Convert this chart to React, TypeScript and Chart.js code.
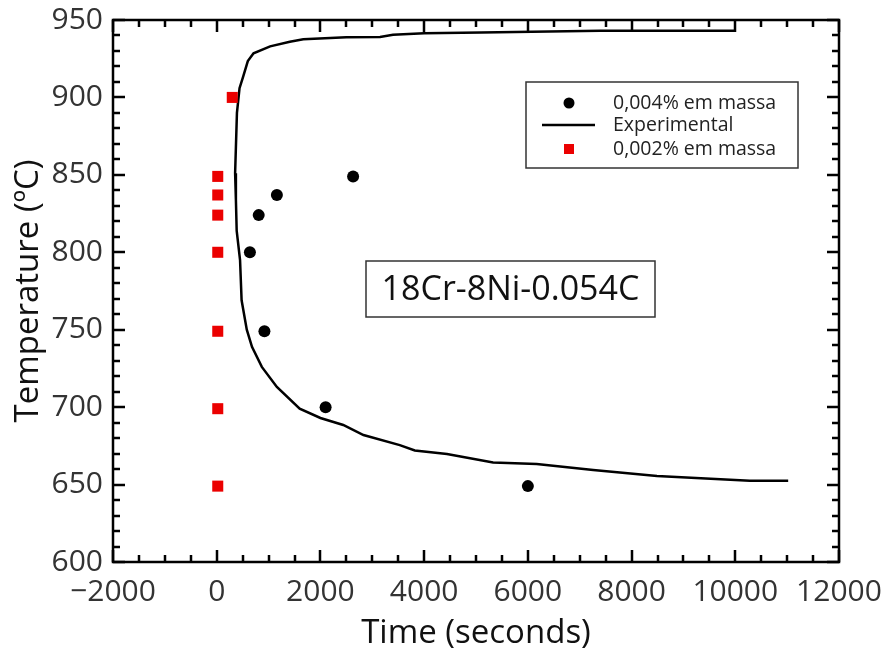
import React, { useEffect, useRef } from 'react';
import { Chart, registerables } from 'chart.js';
Chart.register(...registerables);

const xTicks = [-2000, 0, 2000, 4000, 6000, 8000, 10000, 12000];
const yTicks = [600, 650, 700, 750, 800, 850, 900, 950];

const blackLabel = '0,004% em massa';
const blackX = [2630, 1160, 810, 640, 920, 2100, 6000];
const blackY = [849, 837, 824, 800, 749, 700, 649];

const redLabel = '0,002% em massa';
const redX = [20, 20, 20, 20, 20, 20, 20, 300];
const redY = [849, 837, 824, 800, 749, 699, 649, 900];

const expLabel = 'Experimental';
const expX = [10000, 7400, 5100, 4000, 3400, 3150, 2500, 1670, 1410, 1030, 710, 600, 510, 440, 390, 355, 370, 385, 450, 480, 580, 680, 870, 1160, 1600, 2000, 2440, 2830, 3530, 3820, 4440, 5330, 6170, 7260, 8490, 10280, 11020];
const expY = [943, 943, 942, 941.5, 940.5, 939, 938.8, 937.5, 936, 933, 928.5, 923.5, 913.5, 906, 890, 851, 834, 814, 795, 769, 750, 739, 726, 713, 699, 693, 688.5, 682, 675.5, 672, 669.7, 664.3, 663.3, 659.4, 655.5, 652.5, 652.5];

const boxText = '18Cr-8Ni-0.054C';
const xTitle = 'Time (seconds)';
const yTitle = 'Temperature (ºC)';

const FONT = "'Open Sans', sans-serif";

const zip = (xs: number[], ys: number[]) => xs.map((x, i) => ({ x, y: ys[i] }));

const framePlugin = {
  id: 'frameTicks',
  afterDraw(chart: any) {
    const { ctx, chartArea: ca, scales } = chart;
    const xs = scales.x;
    const ys = scales.y;
    ctx.save();
    ctx.strokeStyle = '#000';
    ctx.lineWidth = 2.5;
    ctx.lineCap = 'butt';
    const major = 12;
    const minor = 7;
    for (let v = -2000; v <= 12000; v += 500) {
      const px = Math.round(xs.getPixelForValue(v));
      const len = v % 2000 === 0 ? major : minor;
      ctx.beginPath();
      ctx.moveTo(px, ca.bottom);
      ctx.lineTo(px, ca.bottom - len);
      ctx.moveTo(px, ca.top);
      ctx.lineTo(px, ca.top + len);
      ctx.stroke();
    }
    for (let v = 600; v <= 950; v += 10) {
      const py = Math.round(ys.getPixelForValue(v));
      const len = v % 50 === 0 ? major : minor;
      ctx.beginPath();
      ctx.moveTo(ca.left, py);
      ctx.lineTo(ca.left + len, py);
      ctx.moveTo(ca.right, py);
      ctx.lineTo(ca.right - len, py);
      ctx.stroke();
    }
    ctx.lineWidth = 2.5;
    ctx.strokeRect(ca.left, ca.top, ca.right - ca.left, ca.bottom - ca.top);

    // annotation box
    const bx = ca.left + 253;
    const by = ca.top + 241;
    const bw = 289;
    const bh = 56;
    ctx.fillStyle = '#fff';
    ctx.fillRect(bx, by, bw, bh);
    ctx.lineWidth = 1.5;
    ctx.strokeStyle = '#333';
    ctx.strokeRect(bx, by, bw, bh);
    ctx.fillStyle = '#111';
    ctx.font = `34px ${FONT}`;
    ctx.textAlign = 'center';
    ctx.textBaseline = 'middle';
    ctx.fillText(boxText, bx + bw / 2, by + bh / 2 + 1);

    // legend
    const lx = ca.left + 413;
    const ly = ca.top + 62;
    const lw = 272;
    const lh = 86;
    ctx.fillStyle = '#fff';
    ctx.fillRect(lx, ly, lw, lh);
    ctx.strokeStyle = '#333';
    ctx.lineWidth = 1.5;
    ctx.strokeRect(lx, ly, lw, lh);
    const rows = [ly + 21, ly + 43, ly + 67];
    ctx.fillStyle = '#000';
    ctx.beginPath();
    ctx.arc(lx + 43, rows[0], 5.5, 0, Math.PI * 2);
    ctx.fill();
    ctx.strokeStyle = '#000';
    ctx.lineWidth = 2.5;
    ctx.beginPath();
    ctx.moveTo(lx + 16, rows[1]);
    ctx.lineTo(lx + 69, rows[1]);
    ctx.stroke();
    ctx.fillStyle = 'rgb(235,0,0)';
    ctx.fillRect(lx + 38, rows[2] - 5, 10, 10);
    ctx.fillStyle = '#222';
    ctx.font = `19.5px ${FONT}`;
    ctx.textAlign = 'left';
    ctx.textBaseline = 'middle';
    ctx.fillText(blackLabel, lx + 87, rows[0]);
    ctx.fillText(expLabel, lx + 87, rows[1]);
    ctx.fillText(redLabel, lx + 87, rows[2]);
    ctx.restore();
  },
};

export default function App() {
  const ref = useRef<HTMLCanvasElement | null>(null);
  useEffect(() => {
    if (!ref.current) return;
    const chart = new Chart(ref.current, {
      type: 'scatter',
      data: {
        datasets: [
          {
            label: expLabel,
            data: zip(expX, expY),
            showLine: true,
            borderColor: '#000',
            borderWidth: 2.5,
            pointRadius: 0,
            tension: 0,
            fill: false,
            order: 3,
          },
          {
            label: blackLabel,
            data: zip(blackX, blackY),
            pointStyle: 'circle',
            pointRadius: 6,
            backgroundColor: '#000',
            borderColor: '#000',
            borderWidth: 0,
            order: 2,
          },
          {
            label: redLabel,
            data: zip(redX, redY),
            pointStyle: 'rect',
            pointRadius: 7.8,
            backgroundColor: 'rgb(235,0,0)',
            borderColor: 'rgb(235,0,0)',
            borderWidth: 0,
            order: 1,
          },
        ],
      },
      options: {
        animation: false,
        responsive: true,
        maintainAspectRatio: false,
        layout: { padding: { top: 20, right: 50, left: 0, bottom: 0 } },
        plugins: {
          legend: { display: false },
          tooltip: { enabled: false },
        },
        scales: {
          x: {
            type: 'linear',
            min: -2000,
            max: 12000,
            afterBuildTicks: (s: any) => {
              s.ticks = xTicks.map((v) => ({ value: v }));
            },
            afterFit: (s: any) => {
              s.height = 97;
              s.paddingLeft = 0;
              s.paddingRight = 0;
            },
            grid: { display: false, drawTicks: false },
            border: { display: false },
            ticks: {
              padding: 12,
              color: '#333',
              font: { family: FONT, size: 30 },
              maxRotation: 0,
              autoSkip: false,
              callback: (v: any) => (Number(v) < 0 ? '\u2212' + Math.abs(Number(v)) : String(v)),
            },
            title: {
              display: true,
              text: xTitle,
              color: '#111',
              font: { family: FONT, size: 33 },
              padding: { top: 0, bottom: 6 },
            },
          },
          y: {
            type: 'linear',
            min: 600,
            max: 950,
            afterBuildTicks: (s: any) => {
              s.ticks = yTicks.map((v) => ({ value: v }));
            },
            afterFit: (s: any) => {
              s.width = 113;
              s.paddingTop = 0;
              s.paddingBottom = 0;
            },
            grid: { display: false, drawTicks: false },
            border: { display: false },
            ticks: {
              padding: 10,
              color: '#333',
              font: { family: FONT, size: 30 },
              autoSkip: false,
              callback: (v: any) => String(v),
            },
            title: {
              display: true,
              text: yTitle,
              color: '#111',
              font: { family: FONT, size: 33 },
              padding: { top: 9, bottom: 0 },
            },
          },
        },
      },
      plugins: [framePlugin],
    });
    return () => chart.destroy();
  }, []);
  return (
    <div style={{ position: 'fixed', left: 0, top: 0, width: 889, height: 659, background: '#fff' }}>
      <canvas ref={ref} />
    </div>
  );
}
